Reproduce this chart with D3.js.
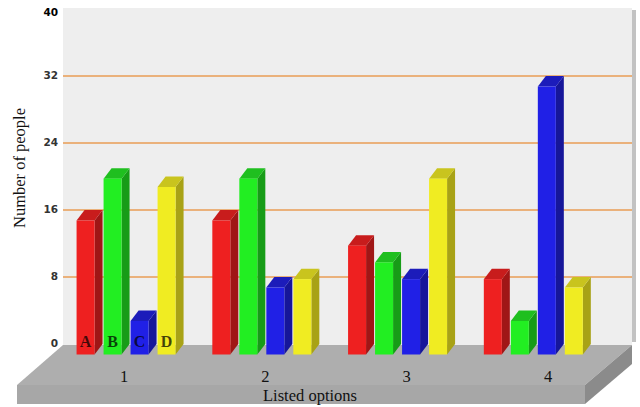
<!DOCTYPE html>
<html>
<head>
<meta charset="utf-8">
<script src="https://cdn.jsdelivr.net/npm/d3@7"></script>
<style>
  body { margin: 0; background: #fff; }
  svg { display: block; }
</style>
</head>
<body>
<div id="chart"></div>
<script>
// data
const groups = ["1", "2", "3", "4"];
const series = ["A", "B", "C", "D"];
const valuesA = [16, 16, 13, 9];
const valuesB = [21, 21, 11, 4];
const valuesC = [4, 8, 9, 32];
const valuesD = [20, 9, 21, 8];
const yTicks = [0, 8, 16, 24, 32, 40];
const gridTicks = [8, 16, 24, 32];

const width = 640, height = 407;
const wall = {left: 63, right: 632, top: 8, bottom: 345};
const depthX = 8, depthY = 10.5;

// colours for front, top, side of each series
const faces = {
  A: {front: "#ee2020", top: "#c81c1c", side: "#a01616"},
  B: {front: "#22ee22", top: "#1fbf1f", side: "#179c17"},
  C: {front: "#2020e6", top: "#1c1cba", side: "#16169a"},
  D: {front: "#f0ec22", top: "#c9c41e", side: "#a8a216"}
};

const rows = [];
series.forEach((s, i) => {
  const vals = [valuesA, valuesB, valuesC, valuesD][i];
  groups.forEach((g, j) => rows.push({group: g, series: s, value: vals[j]}));
});

const svg = d3.select("#chart")
              .append("svg")
              .attr("width", width)
              .attr("height", height);

const y = d3.scaleLinear()
            .domain([0, 40])
            .range([344, 9]);

const x0 = d3.scaleBand()
             .domain(groups)
             .range([63, 606])
             .paddingInner(0.2)
             .paddingOuter(0.1);

const x1 = d3.scaleBand()
             .domain(series)
             .range([0, x0.bandwidth() - depthX - 1.6])
             .paddingInner(1 / 3);

const xLabel = d3.scalePoint()
                 .domain(groups)
                 .range([124, 548]);

// back wall and its shadow
svg.append("rect")
   .attr("x", wall.right)
   .attr("y", wall.top + 2)
   .attr("width", 4)
   .attr("height", wall.bottom - wall.top - 5)
   .attr("fill", "#c2c2c2");

svg.append("rect")
   .attr("x", wall.left)
   .attr("y", wall.top)
   .attr("width", wall.right - wall.left)
   .attr("height", wall.bottom - wall.top)
   .attr("fill", "#eeeeee");

// grid lines
svg.append("g")
   .selectAll("line")
   .data(gridTicks)
   .enter()
   .append("line")
   .attr("x1", wall.left)
   .attr("x2", wall.right)
   .attr("y1", d => y(d))
   .attr("y2", d => y(d))
   .attr("stroke", "#e89c55")
   .attr("stroke-width", 1.4);

// floor slab
const floorTop = [[63, 345], [632, 345], [585, 385], [17, 385]];
const floorFront = [[17, 385], [585, 385], [585, 404], [17, 404]];
const floorSide = [[585, 385], [632, 345], [632, 364], [585, 404]];
[[floorTop, "#aeaeae"], [floorFront, "#a7a7a7"], [floorSide, "#8b8b8b"]].forEach(([pts, c]) => {
  svg.append("polygon")
     .attr("points", pts.map(p => p.join(",")).join(" "))
     .attr("fill", c);
});

// y axis
const yAxis = svg.append("g")
                 .attr("transform", "translate(58,0)")
                 .call(d3.axisLeft(y).tickValues(yTicks).tickSize(0).tickPadding(0));
yAxis.select(".domain").remove();
yAxis.selectAll("text")
     .attr("font-family", "DejaVu Sans, Verdana, sans-serif")
     .attr("font-weight", "bold")
     .attr("font-size", "10.5px")
     .attr("dy", d => d === 40 ? "0.6em" : "0.25em")
     .attr("fill", d => d === 40 ? "#000" : "#333");

// 3d bars
const bars = svg.append("g")
                .selectAll("g")
                .data(rows)
                .enter()
                .append("g");

const bottom = y(0) + depthY;

bars.append("polygon")
    .attr("points", d => {
      const xl = x0(d.group) + x1(d.series) + x1.bandwidth();
      const yt = y(d.value) + depthY;
      return [[xl, yt], [xl + depthX, yt - depthY], [xl + depthX, bottom - depthY], [xl, bottom]]
             .map(p => p.join(",")).join(" ");
    })
    .attr("fill", d => faces[d.series].side);

bars.append("polygon")
    .attr("points", d => {
      const xl = x0(d.group) + x1(d.series);
      const w = x1.bandwidth();
      const yt = y(d.value) + depthY;
      return [[xl, yt], [xl + depthX, yt - depthY], [xl + w + depthX, yt - depthY], [xl + w, yt]]
             .map(p => p.join(",")).join(" ");
    })
    .attr("fill", d => faces[d.series].top);

bars.append("rect")
    .attr("x", d => x0(d.group) + x1(d.series))
    .attr("y", d => y(d.value) + depthY)
    .attr("width", x1.bandwidth())
    .attr("height", d => bottom - y(d.value) - depthY)
    .attr("fill", d => faces[d.series].front);

// series letters on the first group
svg.append("g")
   .selectAll("text")
   .data(series)
   .enter()
   .append("text")
   .attr("x", d => x0(groups[0]) + x1(d) + x1.bandwidth() / 2)
   .attr("y", 347)
   .attr("text-anchor", "middle")
   .attr("font-family", "Liberation Serif, Times New Roman, serif")
   .attr("font-weight", "bold")
   .attr("font-size", "16px")
   .attr("fill", "#000")
   .attr("fill-opacity", 0.72)
   .text(d => d);

// category labels on the floor
svg.append("g")
   .selectAll("text")
   .data(groups)
   .enter()
   .append("text")
   .attr("x", d => xLabel(d))
   .attr("y", 382)
   .attr("text-anchor", "middle")
   .attr("font-family", "Liberation Serif, Times New Roman, serif")
   .attr("font-size", "16.5px")
   .attr("fill", "#111")
   .text(d => d);

// axis titles
svg.append("text")
   .attr("x", 310)
   .attr("y", 401)
   .attr("text-anchor", "middle")
   .attr("font-family", "Liberation Serif, Times New Roman, serif")
   .attr("font-size", "16.5px")
   .attr("fill", "#111")
   .text("Listed options");

svg.append("text")
   .attr("transform", "translate(25,168) rotate(-90)")
   .attr("text-anchor", "middle")
   .attr("font-family", "Liberation Serif, Times New Roman, serif")
   .attr("font-size", "16.5px")
   .attr("fill", "#111")
   .text("Number of people");
</script>
</body>
</html>
